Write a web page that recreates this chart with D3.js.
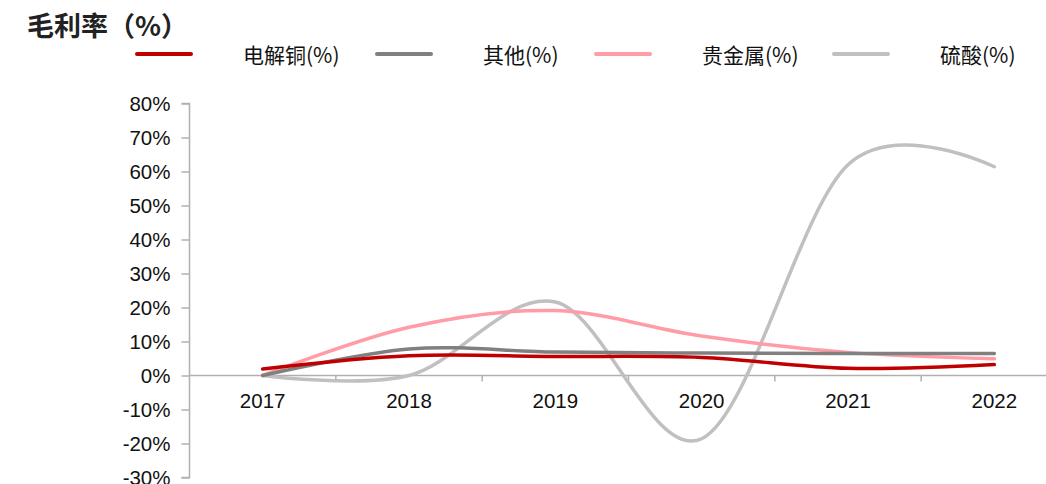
<!DOCTYPE html>
<html><head><meta charset="utf-8">
<script src="https://cdn.jsdelivr.net/npm/d3@7"></script>
<style>
html,body{margin:0;padding:0;background:#fff;overflow:hidden;}
svg{display:block;font-family:"Liberation Sans",Arial,sans-serif;}
</style></head>
<body><svg id="c" width="1046" height="484"></svg>
<script>
const categories = ["2017","2018","2019","2020","2021","2022"];
const seriesNames = ["电解铜(%)","其他(%)","贵金属(%)","硫酸(%)"];
const copper   = [1.9, 5.8, 5.6, 5.3, 2.1, 3.2];
const other    = [0.0, 7.8, 6.9, 6.6, 6.5, 6.5];
const precious = [0.0, 14.2, 19.1, 11.6, 6.8, 4.9];
const acid     = [0.0, 0.0, 21.6, -18.6, 62.0, 61.4];
const yTicks   = [-30,-20,-10,0,10,20,30,40,50,60,70,80];
const colors   = ["#C00000","#808080","#FF9CA6","#C0C0C0"];

const svg = d3.select("#c");
const x = d3.scaleBand().domain(categories).range([189.5, 1067.5]).padding(0);
const y = d3.scaleLinear().domain([-30, 80]).range([477.5, 103.5]);

// title
svg.append("text").attr("x",27).attr("y",36).attr("font-size",27).attr("font-weight","bold")
  .attr("font-family","'Noto Sans CJK SC',sans-serif").attr("fill","#222").text("毛利率（%）");

// legend
const legX = [137, 377, 596, 834];
const legTX = [243, 483, 702, 940];
seriesNames.forEach((n,i)=>{
  svg.append("line").attr("x1",legX[i]).attr("x2",legX[i]+54).attr("y1",54).attr("y2",54)
    .attr("stroke",colors[i]).attr("stroke-width",4).attr("stroke-linecap","round");
  svg.append("text").attr("x",legTX[i]).attr("y",63).attr("font-size",21)
    .attr("font-family","'Noto Sans CJK SC',sans-serif").attr("fill","#111").text(n);
});

// y axis
const yAxis = d3.axisLeft(y).tickValues(yTicks).tickFormat(d=>d+"%").tickSize(8).tickPadding(11);
const ga = svg.append("g").attr("transform","translate(189.5,0)").call(yAxis);
ga.selectAll("path,line").attr("stroke","#B0B0B0").attr("stroke-width",1.5);
ga.select(".domain").attr("d", `M-8,${y(80)}H0V${y(-30)}H-8`);
ga.selectAll("text").attr("font-size",20.5).attr("fill","#111").attr("font-family","'Liberation Sans',Arial,sans-serif");

// x axis at zero
const xAxis = d3.axisBottom(x).tickSize(0).tickPadding(18);
const gx = svg.append("g").attr("transform",`translate(0,${y(0)})`).call(xAxis);
gx.select(".domain").attr("stroke","#B0B0B0").attr("stroke-width",1.5).attr("d",`M189.5,0H1067.5`);
gx.selectAll("text").attr("font-size",20.5).attr("fill","#111").attr("font-family","'Liberation Sans',Arial,sans-serif");
// category boundary ticks
gx.selectAll(".bt").data(categories.slice(1)).enter().append("line")
  .attr("x1",d=>x(d)).attr("x2",d=>x(d)).attr("y1",0).attr("y2",6)
  .attr("stroke","#B0B0B0").attr("stroke-width",1.5);

// lines
const data = [copper, other, precious, acid];
const line = d3.line().x((d,i)=>x(categories[i])+x.bandwidth()/2).y(d=>y(d))
  .curve(d3.curveCatmullRom.alpha(0));
const order = [3,2,1,0];
order.forEach(i=>{
  svg.append("path").attr("d",line(data[i])).attr("fill","none")
    .attr("stroke",colors[i]).attr("stroke-width",3.5).attr("stroke-linecap","round");
});
</script></body></html>
